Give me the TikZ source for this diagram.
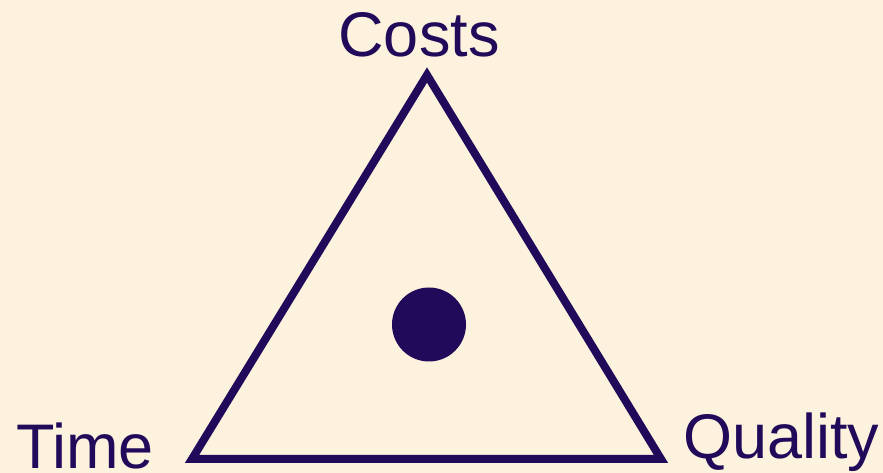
\documentclass[tikz,border=0pt]{standalone}
\usepackage{fontspec}
\setmainfont{Liberation Sans}
\definecolor{bg}{RGB}{253,242,221}
\definecolor{ink}{RGB}{33,10,90}
\begin{document}
\begin{tikzpicture}[x=1pt,y=1pt,
  lbl/.style={inner sep=0pt,text=ink,font=\fontsize{63}{63}\selectfont}]
\fill[bg] (0,0) rectangle (883,473);
\useasboundingbox (0,0) rectangle (883,473);
\coordinate (top) at (427,398);
\coordinate (bl) at (192,14);
\coordinate (br) at (661,14);
\draw[ink,line width=8pt,miter limit=10] (top) -- (bl) -- (br) -- cycle;
\fill[ink] (429,148.5) circle (37);
\node[lbl,anchor=base] (costs) at (419,416) {Costs};
\node[lbl,anchor=base west] (time) at (16,4) {Time};
\node[lbl,anchor=base west] (quality) at (683,14) {Quality};
\end{tikzpicture}
\end{document}
